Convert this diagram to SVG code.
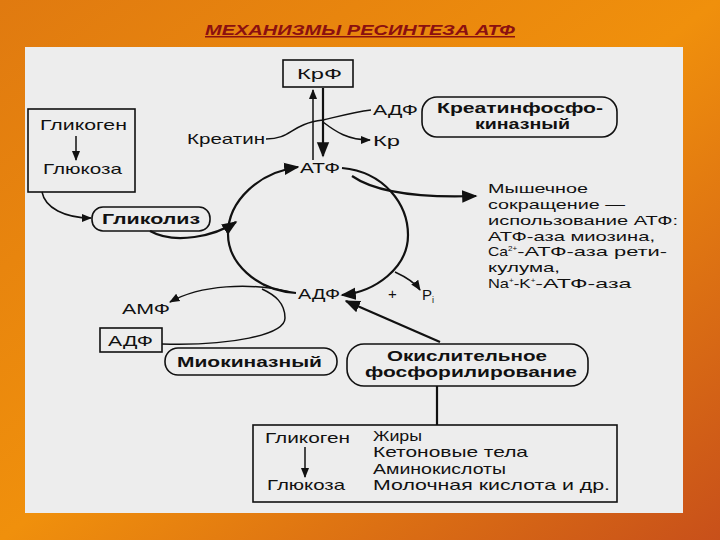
<svg xmlns="http://www.w3.org/2000/svg" width="720" height="540" viewBox="0 0 720 540">
<defs>
<linearGradient id="bg" x1="0" y1="0" x2="1" y2="1">
<stop offset="0" stop-color="#E07A10"/><stop offset="0.5" stop-color="#F0900C"/><stop offset="1" stop-color="#C8501A"/>
</linearGradient>
<marker id="ah" viewBox="0 0 10 10" refX="9" refY="5" markerWidth="7" markerHeight="7" orient="auto-start-reverse">
<path d="M0,1 L10,5 L0,9 Z" fill="#111"/>
</marker>
<style>
text{font-family:"Liberation Sans",Arial,sans-serif;font-size:15px;fill:#111}
.b{font-weight:bold}
.m{font-size:13.5px}
.box{fill:none;stroke:#111;stroke-width:1.6}
.ln{fill:none;stroke:#111;stroke-width:1.5}
.th{fill:none;stroke:#111;stroke-width:2.2}
</style>
</defs>
<rect width="720" height="540" fill="url(#bg)"/>
<rect x="25" y="47" width="658" height="466" fill="#ededed"/>
<text x="205" y="35" textLength="310" lengthAdjust="spacingAndGlyphs" style="font-size:15px;font-weight:bold;font-style:italic;fill:#8B1010;text-decoration:underline">МЕХАНИЗМЫ РЕСИНТЕЗА АТФ</text>

<g id="connectors">
<path class="ln" d="M313 160 V90" marker-end="url(#ah)"/>
<path class="th" d="M323 88 V156" marker-end="url(#ah)"/>
<path class="ln" d="M266 139 C292 139 290 124 323 120 C340 116 355 112 371 110"/>
<path class="ln" d="M323 122 C336 132 348 140 370 140" marker-end="url(#ah)"/>
<path class="ln" d="M76 136 V160" marker-end="url(#ah)"/>
<path class="ln" d="M42 192 C45 208 65 218 91 218" marker-end="url(#ah)"/>
<path class="th" d="M150 231 C175 245 215 236 236 222" marker-end="url(#ah)"/>
<path class="th" d="M296 293 C255 290 228 262 228 234 C228 200 260 172 298 167" marker-end="url(#ah)"/>
<path class="th" d="M342 168 C385 172 408 205 408 235 C408 268 375 292 342 295" marker-end="url(#ah)"/>
<path class="th" d="M352 176 C375 192 420 198 476 196" marker-end="url(#ah)"/>
<path class="ln" d="M395 272 C408 278 416 284 420 290" marker-end="url(#ah)"/>
<path class="ln" d="M290 292 C250 282 200 285 170 302" marker-end="url(#ah)"/>
<path class="ln" d="M162 344 C230 346 285 335 285 318 C285 303 275 295 262 289"/>
<path class="th" d="M440 342 L346 301" marker-end="url(#ah)"/>
<path class="th" d="M437 386 V425"/>
<path class="ln" d="M305 447 V477" marker-end="url(#ah)"/>
</g>

<g id="krf"><rect class="box" x="283" y="60" width="70" height="27"/><text x="297" y="79" textLength="45" lengthAdjust="spacingAndGlyphs">КрФ</text></g>
<g id="adf1"><text x="373" y="115" textLength="45" lengthAdjust="spacingAndGlyphs">АДФ</text></g>
<g id="kreatin"><text x="187" y="144" textLength="78" lengthAdjust="spacingAndGlyphs">Креатин</text></g>
<g id="kr"><text x="373" y="146" textLength="27" lengthAdjust="spacingAndGlyphs">Кр</text></g>
<g id="ckinase"><rect class="box" x="422" y="97" width="195" height="40" rx="15"/><text class="b" x="437" y="113" textLength="166" lengthAdjust="spacingAndGlyphs">Креатинфосфо-</text><text class="b" x="475" y="129" textLength="95" lengthAdjust="spacingAndGlyphs">киназный</text></g>
<g id="glyc1"><rect class="box" x="28" y="109" width="107" height="83"/><text x="40" y="130" textLength="87" lengthAdjust="spacingAndGlyphs">Гликоген</text><text x="43" y="174" textLength="79" lengthAdjust="spacingAndGlyphs">Глюкоза</text></g>
<g id="atf"><text x="300" y="173" textLength="40" lengthAdjust="spacingAndGlyphs">АТФ</text></g>
<g id="glycolysis"><rect class="box" x="92" y="207" width="118" height="24" rx="11"/><text class="b" x="102" y="224" textLength="98" lengthAdjust="spacingAndGlyphs">Гликолиз</text></g>
<g id="muscle">
<text class="m" x="488" y="193" textLength="100" lengthAdjust="spacingAndGlyphs">Мышечное</text>
<text class="m" x="488" y="209" textLength="137" lengthAdjust="spacingAndGlyphs">сокращение —</text>
<text class="m" x="488" y="225" textLength="190" lengthAdjust="spacingAndGlyphs">использование АТФ:</text>
<text class="m" x="488" y="241" textLength="167" lengthAdjust="spacingAndGlyphs">АТФ-аза миозина,</text>
<text class="m" x="488" y="256"><tspan textLength="20" lengthAdjust="spacingAndGlyphs">Ca</tspan><tspan dy="-5" style="font-size:8px">2+</tspan><tspan dy="5" textLength="150" lengthAdjust="spacingAndGlyphs">-АТФ-аза рети-</tspan></text>
<text class="m" x="488" y="272" textLength="72" lengthAdjust="spacingAndGlyphs">кулума,</text>
<text class="m" x="488" y="288"><tspan textLength="21" lengthAdjust="spacingAndGlyphs">Na</tspan><tspan dy="-5" style="font-size:8px">+</tspan><tspan dy="5" textLength="17" lengthAdjust="spacingAndGlyphs">-K</tspan><tspan dy="-5" style="font-size:8px">+</tspan><tspan dy="5" textLength="96" lengthAdjust="spacingAndGlyphs">-АТФ-аза</tspan></text>
</g>
<g id="adf2"><text x="298" y="299" textLength="42" lengthAdjust="spacingAndGlyphs">АДФ</text><text x="388" y="299">+</text><text x="422" y="300">P<tspan dy="3" style="font-size:9px">i</tspan></text></g>
<g id="amf"><text x="122" y="314" textLength="48" lengthAdjust="spacingAndGlyphs">АМФ</text></g>
<g id="adf3"><rect class="box" x="100" y="328" width="62" height="24"/><text x="108" y="346" textLength="45" lengthAdjust="spacingAndGlyphs">АДФ</text></g>
<g id="myokinase"><rect class="box" x="165" y="348" width="172" height="27" rx="13"/><text class="b" x="177" y="367" textLength="145" lengthAdjust="spacingAndGlyphs">Миокиназный</text></g>
<g id="oxphos"><rect class="box" x="347" y="344" width="241" height="42" rx="17"/><text class="b" x="387" y="361" textLength="160" lengthAdjust="spacingAndGlyphs">Окислительное</text><text class="b" x="365" y="377" textLength="212" lengthAdjust="spacingAndGlyphs">фосфорилирование</text></g>
<g id="substrates"><rect class="box" x="253" y="425" width="364" height="77"/>
<text x="265" y="443" textLength="85" lengthAdjust="spacingAndGlyphs">Гликоген</text>
<text x="267" y="490" textLength="78" lengthAdjust="spacingAndGlyphs">Глюкоза</text>
<text x="373" y="441" textLength="49" lengthAdjust="spacingAndGlyphs">Жиры</text>
<text x="373" y="457" textLength="155" lengthAdjust="spacingAndGlyphs">Кетоновые тела</text>
<text x="373" y="474" textLength="133" lengthAdjust="spacingAndGlyphs">Аминокислоты</text>
<text x="373" y="490" textLength="237" lengthAdjust="spacingAndGlyphs">Молочная кислота и др.</text></g>
</svg>
